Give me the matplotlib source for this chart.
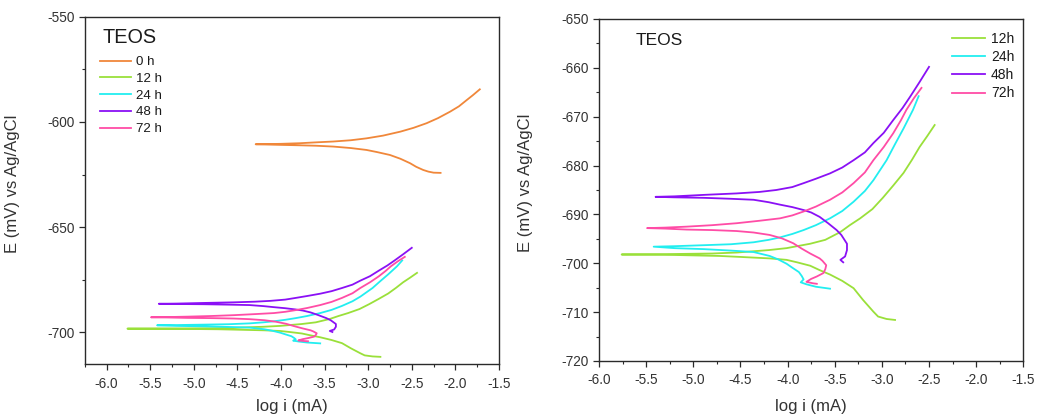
import matplotlib
matplotlib.use("Agg")
import matplotlib.pyplot as plt
from matplotlib.ticker import MultipleLocator, FormatStrFormatter

plt.rcParams['font.family'] = ['Liberation Sans', 'DejaVu Sans']

# ---------------- data (log i [mA], E [mV vs Ag/AgCl]) ----------------
x_0h = [-2.17, -2.25, -2.31, -2.37, -2.45, -2.52, -2.63, -2.75, -2.90, -3.02, -3.20, -3.40, -3.60, -3.78, -4.00, -4.29,
        -4.00, -3.78, -3.60, -3.40, -3.20, -3.02, -2.83, -2.63, -2.48, -2.33, -2.20, -2.06, -1.96, -1.87, -1.80, -1.72]
y_0h = [-624.2, -624.1, -623.6, -622.8, -621.3, -619.6, -617.5, -615.7, -614.3, -613.3, -612.4, -611.7, -611.3, -611.1, -610.9, -610.6,
        -610.4, -610.1, -609.7, -609.3, -608.7, -607.8, -606.5, -604.6, -602.8, -600.6, -598.2, -595.1, -592.6, -589.6, -587.3, -584.5]

x_12h = [-2.86, -2.95, -3.04, -3.09, -3.20, -3.30, -3.42, -3.55, -3.66, -3.76, -3.90, -4.01, -4.19, -4.50, -4.72, -5.20, -5.76,
         -5.20, -4.80, -4.54, -4.20, -4.01, -3.90, -3.76, -3.60, -3.44, -3.34, -3.23, -3.10, -2.99, -2.88, -2.77, -2.68, -2.60, -2.52, -2.44]
y_12h = [-711.6, -711.4, -710.9, -709.9, -707.5, -705.1, -703.6, -702.3, -701.4, -700.5, -699.8, -699.3, -699.0, -698.7, -698.5, -698.3, -698.2,
         -698.1, -698.0, -697.8, -697.3, -696.9, -696.5, -696.0, -695.2, -693.6, -692.2, -690.8, -688.9, -686.6, -684.1, -681.5, -678.8, -676.2, -674.0, -671.7]

x_24h = [-3.55, -3.70, -3.80, -3.86, -3.83, -3.85, -3.88, -3.95, -4.01, -4.10, -4.19, -4.36, -4.60, -4.89, -5.20, -5.42,
         -5.20, -4.89, -4.60, -4.36, -4.20, -4.08, -3.95, -3.83, -3.70, -3.55, -3.42, -3.30, -3.18, -3.09, -2.95, -2.86, -2.77, -2.67, -2.61]
y_24h = [-705.2, -704.8, -704.3, -703.9, -703.3, -702.6, -701.8, -700.9, -700.1, -699.2, -698.5, -697.7, -697.4, -697.1, -696.9, -696.6,
         -696.5, -696.3, -696.1, -695.7, -695.2, -694.7, -694.0, -693.2, -692.2, -690.8, -689.3, -687.4, -685.2, -683.0, -678.9, -675.6, -672.4, -668.6, -665.8]

x_48h = [-3.41, -3.44, -3.39, -3.37, -3.37, -3.39, -3.43, -3.48, -3.57, -3.66, -3.75, -3.83, -3.95, -4.08, -4.20, -4.36, -4.60, -4.89, -5.20, -5.40,
         -5.20, -4.89, -4.54, -4.30, -4.12, -3.95, -3.83, -3.70, -3.55, -3.42, -3.30, -3.18, -3.09, -2.98, -2.88, -2.78, -2.70, -2.60, -2.50]
y_48h = [-699.8, -699.3, -698.6, -697.3, -696.0, -695.4, -694.2, -693.2, -691.8, -690.5, -689.6, -689.1, -688.5, -688.0, -687.5, -687.0, -686.8, -686.6, -686.5, -686.4,
         -686.3, -686.0, -685.7, -685.4, -685.0, -684.4, -683.6, -682.7, -681.6, -680.4, -678.9, -677.3, -675.4, -673.3, -670.7, -668.2, -665.9, -662.9, -659.8]

x_72h = [-3.69, -3.73, -3.80, -3.75, -3.69, -3.62, -3.60, -3.59, -3.63, -3.66, -3.76, -3.85, -3.94, -4.06, -4.19, -4.36, -4.54, -4.80, -5.07, -5.30, -5.49,
         -5.30, -5.07, -4.80, -4.54, -4.30, -4.08, -3.95, -3.83, -3.70, -3.55, -3.42, -3.30, -3.18, -3.09, -2.98, -2.88, -2.80, -2.74, -2.66, -2.58]
y_72h = [-704.2, -704.1, -703.8, -703.2, -702.7, -702.0, -701.2, -700.4, -699.5, -699.0, -698.0, -697.0, -695.9, -694.9, -694.2, -693.7, -693.4, -693.2, -693.1, -692.9, -692.8,
         -692.7, -692.5, -692.2, -691.8, -691.3, -690.8, -690.2, -689.4, -688.4, -687.0, -685.5, -683.6, -681.4, -678.9, -676.2, -673.4, -670.8, -668.6, -666.2, -664.1]

left_labels = ['0 h', '12 h', '24 h', '48 h', '72 h']
right_labels = ['12h', '24h', '48h', '72h']
colors = ['#F0873A', '#9AE03A', '#22EEF0', '#8A10F5', '#FF4CA6']

left_series = [(x_0h, y_0h), (x_12h, y_12h), (x_24h, y_24h), (x_48h, y_48h), (x_72h, y_72h)]
right_series = [(x_12h, y_12h), (x_24h, y_24h), (x_48h, y_48h), (x_72h, y_72h)]

W, H = 1037, 417
fig = plt.figure(figsize=(W / 100, H / 100), dpi=100)

def rect(l, t, r, b):
    return [l / W, 1 - b / H, (r - l) / W, (b - t) / H]

axL = fig.add_axes(rect(84.7, 16.7, 499, 364))
axR = fig.add_axes(rect(599, 19, 1023.3, 361))

lw = 1.3
for (xs, ys), c, lab in zip(left_series, colors, left_labels):
    axL.plot(xs, ys, color=c, lw=lw, label=lab)
for (xs, ys), c, lab in zip(right_series, colors[1:], right_labels):
    axR.plot(xs, ys, color=c, lw=lw, label=lab)

def style(ax, xlim, ylim, ymaj, ymin):
    ax.set_xlim(*xlim)
    ax.set_ylim(*ylim)
    ax.xaxis.set_major_locator(MultipleLocator(0.5))
    ax.xaxis.set_minor_locator(MultipleLocator(0.25))
    ax.yaxis.set_major_locator(MultipleLocator(ymaj))
    ax.yaxis.set_minor_locator(MultipleLocator(ymin))
    ax.xaxis.set_major_formatter(FormatStrFormatter('%.1f'))
    ax.yaxis.set_major_formatter(FormatStrFormatter('%d'))
    for s in ax.spines.values():
        s.set_color('#2a2a2a')
        s.set_linewidth(1.0)
    ax.tick_params(which='major', direction='out', length=4, width=0.9, colors='#2a2a2a',
                   labelsize=9.8, labelcolor='#333333', pad=3.5)
    ax.tick_params(axis='x', which='major', pad=5)
    ax.tick_params(which='minor', direction='out', length=2.3, width=0.8, colors='#2a2a2a')
    ax.set_xlabel('log i (mA)', fontsize=12, color='#333333')
    ax.set_ylabel('E (mV) vs Ag/AgCl', fontsize=12, color='#333333')

style(axL, (-6.25, -1.5), (-715, -550), 50, 25)
style(axR, (-6.0, -1.5), (-720, -650), 10, 5)

axL.xaxis.set_label_coords(0.5, -0.10)
axR.xaxis.set_label_coords(0.5, -0.11)
axL.yaxis.set_label_coords(-0.156, 0.518)
axR.yaxis.set_label_coords(-0.156, 0.52)

axL.text(0.042, 0.94, 'TEOS', transform=axL.transAxes, fontsize=14.3, va='center', ha='left', color='#1a1a1a')
axR.text(0.087, 0.9365, 'TEOS', transform=axR.transAxes, fontsize=12.5, va='center', ha='left', color='#1a1a1a')

legL = axL.legend(loc='upper left', bbox_to_anchor=(0.037, 0.887), frameon=False, fontsize=9.6,
                  handlelength=2.3, handletextpad=0.4, labelspacing=0.33, borderpad=0, borderaxespad=0)
legR = axR.legend(loc='upper left', bbox_to_anchor=(0.832, 0.962), frameon=False, fontsize=10,
                  handlelength=2.4, handletextpad=0.4, labelspacing=0.3, borderpad=0, borderaxespad=0)
for leg in (legL, legR):
    for t in leg.get_texts():
        t.set_color('#1a1a1a')

fig.savefig('out.png', dpi=100)
